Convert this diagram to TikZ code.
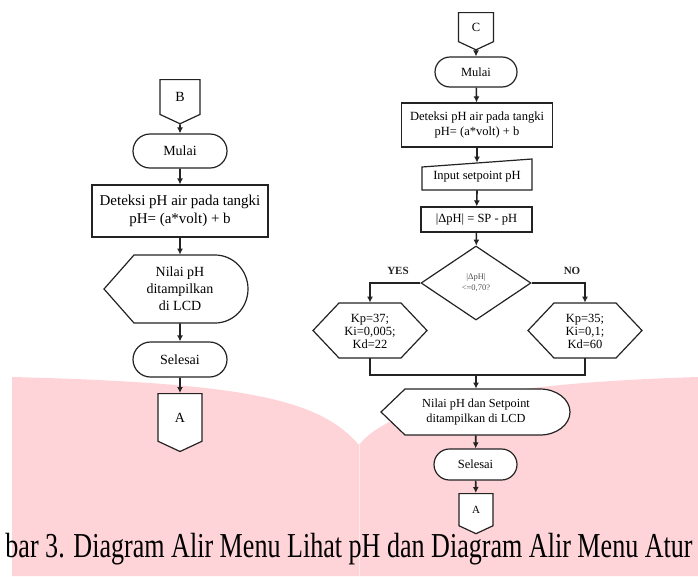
\documentclass[tikz,border=0pt]{standalone}
\usepackage{fontspec}
\setmainfont{Liberation Serif}
\usetikzlibrary{shapes.misc, shapes.geometric, shapes.symbols, arrows.meta}

\definecolor{ink}{RGB}{35,35,35}
\definecolor{pinkbg}{RGB}{255,212,216}

\begin{document}
\begin{tikzpicture}[x=1pt, y=-1pt, thick,
  shp/.style = {draw=ink, line width=1.2pt, fill=white},
  term/.style = {shp, rounded rectangle, inner sep=0pt},
  proc/.style = {shp, rectangle, inner sep=0pt, align=center},
  conn/.style = {shp, signal, signal to=south, signal pointer angle=130, inner sep=0pt},
  dec/.style = {shp, diamond, inner sep=0pt, align=center},
  txt/.style = {inner sep=0pt, align=center},
  arr/.style = {draw=ink, line width=1.6pt, -{Latex[length=6pt,width=6pt]}},
  flow/.style = {draw=ink, line width=1.6pt}]

\useasboundingbox (0,0) rectangle (698,576);
\clip (0,0) rectangle (698,576);

% background
\fill[pinkbg] (12,377) .. controls (250,383) and (320,400) .. (359,445)
  .. controls (390,405) and (500,383) .. (698,377) -- (698,576) -- (12,576) -- cycle;
\draw[white, opacity=0.5, line width=1pt] (359,445) -- (359,576);

% left chart
\begin{scope}[font=\fontsize{14}{17}\selectfont]
\node[conn, minimum width=40pt, minimum height=37pt, anchor=north] (b) at (180,79) {B};
\node[term, minimum width=94pt, minimum height=34pt] (m1) at (180,151) {Mulai};
\node[proc, minimum width=176pt, minimum height=52pt, font=\fontsize{15}{18}\selectfont] (p1) at (180,211) {Deteksi pH air pada tangki\\pH= (a*volt) + b};
\node[txt, minimum width=144pt, minimum height=68pt] (d1) at (180,289) {};
\node[term, minimum width=94pt, minimum height=35pt] (s1) at (180,359.5) {Selesai};
\node[conn, minimum width=44pt, minimum height=50pt, anchor=north] (a1) at (180,393) {A};
\end{scope}
\draw[shp] (104,289) -- (134,255) -- (215,255)
  arc[start angle=270, end angle=450, x radius=33, y radius=34] -- (134,323) -- cycle;
\node[txt, font=\fontsize{14}{17}\selectfont] at (180,289) {Nilai pH\\ditampilkan\\di LCD};

\draw[arr] (b) -- (m1);
\draw[arr] (m1) -- (p1);
\draw[arr] (p1) -- (d1);
\draw[arr] (d1) -- (s1);
\draw[arr] (s1) -- (a1);

% right chart
\begin{scope}[font=\fontsize{12.5}{15}\selectfont]
\node[conn, minimum width=35pt, minimum height=31pt, anchor=north] (c) at (476,12) {C};
\node[term, minimum width=82pt, minimum height=30pt] (m2) at (476,72) {Mulai};
\node[proc, minimum width=151pt, minimum height=44pt] (p2) at (477,125) {Deteksi pH air pada tangki\\pH= (a*volt) + b};
\node[txt, minimum width=110pt, minimum height=27pt] (in) at (477,176.5) {};
\node[proc, minimum width=111pt, minimum height=25pt] (e) at (476.5,219.5) {|ΔpH| = SP - pH};
\node[dec, minimum width=110pt, minimum height=74pt, font=\fontsize{8.5}{11}\selectfont, text=ink!80] (q) at (476,283) {|ΔpH|\\<=0,70?};
\node[txt, minimum width=114pt, minimum height=55pt] (hl) at (370,330.5) {};
\node[txt, minimum width=114pt, minimum height=55pt] (hr) at (585,330.5) {};
\node[txt, minimum width=150pt, minimum height=46pt] (d2) at (476,412) {};
\node[term, minimum width=83pt, minimum height=31pt] (s2) at (475.5,464.5) {Selesai};
\node[conn, minimum width=34pt, minimum height=34pt, anchor=north, font=\fontsize{11}{13}\selectfont] (a2) at (476,493) {A};
\end{scope}

% drawn outlines
\draw[shp] (422,167) -- (532,159) -- (532,190) -- (422,190) -- cycle;
\node[txt, font=\fontsize{12.5}{15}\selectfont] at (477,177) {Input setpoint pH};
\draw[shp] (313,330.5) -- (339,303) -- (401,303) -- (427,330.5) -- (401,358) -- (339,358) -- cycle;
\node[txt, font=\fontsize{12.5}{13}\selectfont] at (370,331) {Kp=37;\\Ki=0,005;\\Kd=22};
\draw[shp] (528,330.5) -- (554,303) -- (616,303) -- (642,330.5) -- (616,358) -- (554,358) -- cycle;
\node[txt, font=\fontsize{12.5}{13}\selectfont] at (585,331) {Kp=35;\\Ki=0,1;\\Kd=60};
\draw[shp] (381,412) -- (405,389) -- (540,389)
  arc[start angle=270, end angle=450, x radius=30, y radius=23] -- (405,435) -- cycle;
\node[txt, font=\fontsize{12.3}{15}\selectfont] at (476,412) {Nilai pH dan Setpoint\\ditampilkan di LCD};

\node[font=\bfseries\fontsize{11}{13}\selectfont, text=ink] (yes) at (398,271) {YES};
\node[font=\bfseries\fontsize{11}{13}\selectfont, text=ink] (no) at (572,271) {NO};

\coordinate (jl) at (370,375);
\coordinate (jm) at (476,375);
\coordinate (jr) at (585,375);

\draw[arr] (c) -- (m2);
\draw[arr] (m2) -- (p2);
\draw[arr] (p2) -- (in);
\draw[arr] (in.south) -- (e);
\draw[arr] (e) -- (q);
\draw[arr] (q.west) -| (hl.north);
\draw[arr] (q.east) -| (hr.north);
\draw[flow] (hl.south) -- (jl) -- (jr) -- (hr.south);
\draw[arr] (jm) -- (d2);
\draw[arr] (d2) -- (s2);
\draw[arr] (s2) -- (a2);

% caption
\node[anchor=base, inner sep=0pt] (cap) at (349,557)
  {\scalebox{0.745}[1]{\fontsize{35}{35}\selectfont bar 3. Diagram Alir Menu Lihat pH dan Diagram Alir Menu Atur}};
\end{tikzpicture}
\end{document}
